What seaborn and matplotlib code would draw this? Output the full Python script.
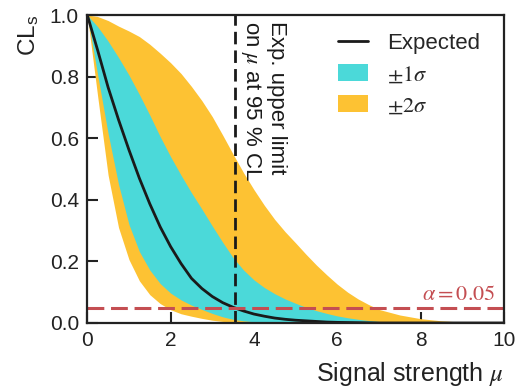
import numpy as np
import pandas as pd
import matplotlib
matplotlib.use("Agg")
import matplotlib.pyplot as plt
import seaborn as sns
from matplotlib.patches import Patch
from matplotlib.lines import Line2D

# signal strength grid and CLs values
mu = [0, 0.25, 0.5, 0.75, 1.0, 1.25, 1.5, 1.75, 2.0, 2.25, 2.5, 2.75, 3.0, 3.25, 3.5,
      3.75, 4.0, 4.25, 4.5, 4.75, 5.0, 5.25, 5.5, 5.75, 6.0, 6.25, 6.5, 6.75, 7.0,
      7.5, 8.0, 8.5, 9.0, 9.5, 10.0]
expected = [1.0, 0.885, 0.765, 0.66, 0.562, 0.47, 0.387, 0.312, 0.248, 0.193, 0.145, 0.112,
            0.086, 0.066, 0.051, 0.039, 0.029, 0.022, 0.016, 0.012, 0.009, 0.007, 0.005,
            0.003, 0.002, 0.0015, 0.001, 0.0005, 0, 0, 0, 0, 0, 0, 0]
lo1 = [1.0, 0.805, 0.615, 0.45, 0.32, 0.232, 0.172, 0.128, 0.097, 0.075, 0.058, 0.044,
       0.031, 0.02, 0.012, 0.007, 0.004, 0.002, 0.001, 0, 0, 0, 0, 0, 0, 0, 0, 0, 0,
       0, 0, 0, 0, 0, 0]
hi1 = [1.0, 0.962, 0.915, 0.862, 0.805, 0.742, 0.675, 0.605, 0.54, 0.48, 0.423, 0.37,
       0.315, 0.262, 0.212, 0.172, 0.14, 0.115, 0.095, 0.078, 0.064, 0.051, 0.04, 0.031,
       0.023, 0.017, 0.012, 0.008, 0.005, 0.002, 0.001, 0, 0, 0, 0]
lo2 = [1.0, 0.735, 0.48, 0.31, 0.206, 0.137, 0.092, 0.063, 0.043, 0.03, 0.022, 0.015,
       0.009, 0.005, 0.003, 0.002, 0.001, 0, 0, 0, 0, 0, 0, 0, 0, 0, 0, 0, 0,
       0, 0, 0, 0, 0, 0]
hi2 = [1.0, 0.995, 0.982, 0.964, 0.948, 0.93, 0.905, 0.876, 0.845, 0.81, 0.768, 0.722,
       0.67, 0.61, 0.548, 0.488, 0.433, 0.382, 0.336, 0.296, 0.26, 0.223, 0.188, 0.156,
       0.126, 0.1, 0.078, 0.06, 0.044, 0.026, 0.014, 0.007, 0.003, 0.001, 0.0]

mu_limit = 3.54
alpha = 0.05

df = pd.DataFrame({'mu': mu, 'expected': expected, 'lo1': lo1, 'hi1': hi1,
                   'lo2': lo2, 'hi2': hi2})

sns.set_style("ticks")
plt.rcParams['font.family'] = ['Liberation Sans', 'DejaVu Sans']
plt.rcParams['mathtext.fontset'] = 'stix'

c1 = '#4bd9d9'
c2 = '#fdc233'
red = '#c44e52'
dark = '#1a1a1a'
axcol = '#222222'

fig = plt.figure(figsize=(5.15, 3.89), dpi=100)
ax = fig.add_axes([0.1695, 0.1697, 0.809, 0.7917])

ax.fill_between(df['mu'], df['lo2'], df['hi2'], color=c2, linewidth=0)
ax.fill_between(df['mu'], df['lo1'], df['hi1'], color=c1, linewidth=0)
sns.lineplot(x='mu', y='expected', data=df, ax=ax, color=dark, linewidth=2)

ax.axvline(mu_limit, color=dark, linestyle=(0, (4.5, 2.2)), linewidth=2)
ax.axhline(alpha, color=red, linestyle=(0, (5.5, 2.2)), linewidth=2.2)

ax.text(mu_limit + 0.1, 0.982, 'Exp. upper limit\non $\\mu$ at 95 % CL', rotation=-90,
        ha='left', va='top', fontsize=16, linespacing=1.2, color=dark)
ax.text(9.8, 0.058, r'$\alpha = 0.05$', color=red, fontsize=16, ha='right', va='bottom')

ax.set_xlim(0, 10)
ax.set_ylim(0, 1)
ax.set_xticks([0, 2, 4, 6, 8, 10])
ax.set_yticks([0, 0.2, 0.4, 0.6, 0.8, 1.0])
ax.set_yticklabels(['0.0', '0.2', '0.4', '0.6', '0.8', '1.0'])
ax.tick_params(direction='in', length=8, width=1.5, labelsize=15, pad=6, colors=axcol)
for s in ax.spines.values():
    s.set_linewidth(1.6)
    s.set_color(axcol)

ax.set_xlabel('Signal strength $\\mu$', fontsize=18, loc='right', labelpad=7, color=axcol)
ax.set_ylabel('CL$_{\\mathregular{s}}$', fontsize=17.5, loc='top', labelpad=6, color=axcol)

handles = [Line2D([0], [0], color=dark, linewidth=2),
           Patch(facecolor=c1, edgecolor='none'),
           Patch(facecolor=c2, edgecolor='none')]
labels = ['Expected', r'$\pm1\sigma$', r'$\pm2\sigma$']
ax.legend(handles, labels, loc='upper right', frameon=False, fontsize=16,
          handlelength=1.35, handleheight=0.8, handletextpad=0.85, labelspacing=0.45,
          borderaxespad=0.4, bbox_to_anchor=(0.985, 1.0))

fig.savefig('out.png', dpi=100)
